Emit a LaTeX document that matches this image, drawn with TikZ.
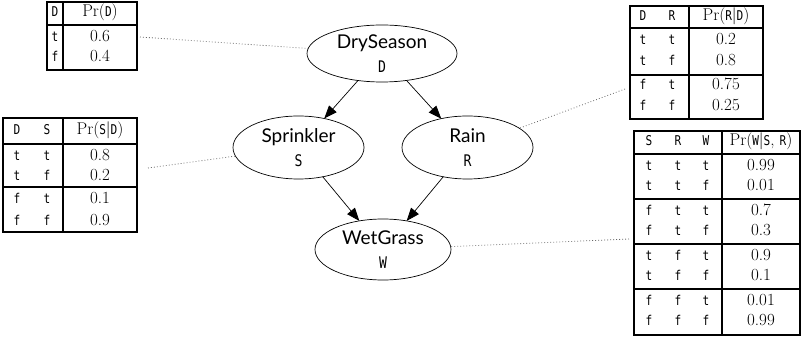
\documentclass[tikz,border=0pt]{standalone}
\usepackage{fontspec}
\usetikzlibrary{shapes.geometric,arrows.meta}
\newfontfamily\labfont{Lato}
\newfontfamily\monof[FakeStretch=0.82]{DejaVu Sans Mono}
\newcommand\ml[1]{{\monof\fontsize{13.5}{15}\selectfont #1}}
\tikzset{
  bn/.style={ellipse, draw, line width=0.7pt, inner sep=0pt, outer sep=0pt, align=center,
    font=\labfont\fontsize{19}{24}\selectfont},
  arr/.style={line width=0.7pt, -{Triangle[length=13pt,width=10pt]}},
  dotline/.style={line width=0.8pt, black!60, dash pattern=on 0.8pt off 2.2pt},
  tbl/.style={line width=1.8pt},
  mt/.style={inner sep=0pt, text height=10pt, text depth=3pt, font=\monof\fontsize{13.5}{15}\selectfont},
  vt/.style={inner sep=0pt, text height=10pt, text depth=3pt, font=\fontsize{17}{20}\selectfont},
}
\begin{document}
\begin{tikzpicture}[x=1pt,y=-1pt]
\useasboundingbox (0,0) rectangle (803,339);

% ---- Bayesian network nodes ----
\node[bn, minimum width=150pt, minimum height=57pt] (D) at (382,53.5) {DrySeason\\{\monof\fontsize{16}{18}\selectfont D}};
\node[bn, minimum width=131pt, minimum height=63pt] (S) at (298.5,147.5) {Sprinkler\\{\monof\fontsize{16}{18}\selectfont S}};
\node[bn, minimum width=131pt, minimum height=63pt] (R) at (467.5,147.5) {Rain\\{\monof\fontsize{16}{18}\selectfont R}};
\node[bn, minimum width=136pt, minimum height=61pt] (W) at (383,249.5) {WetGrass\\{\monof\fontsize{16}{18}\selectfont W}};

\draw[arr] (D) -- (S);
\draw[arr] (D) -- (R);
\draw[arr] (S) -- (W);
\draw[arr] (R) -- (W);

% ---- Table Pr(D) ----
\draw[tbl] (47,2) rectangle (137,70);
\draw[tbl] (47,25) -- (137,25);
\draw[tbl] (63,2) -- (63,70);
\node[mt] (tD-h1) at (55,13.5) {D};
\node[vt] (tD-h2) at (100,13.5) {Pr(\ml{D})};
\node[mt] (tD-11) at (55,38) {t};
\node[vt] (tD-12) at (100,38) {0.6};
\node[mt] (tD-21) at (55,58) {f};
\node[vt] (tD-22) at (100,58) {0.4};
\coordinate (tDc) at (140,37);

% ---- Table Pr(R|D) ----
\draw[tbl] (630,6) rectangle (763,119);
\draw[tbl] (630,28) -- (763,28);
\draw[tbl] (630,75) -- (763,75);
\draw[tbl] (689,6) -- (689,119);
\node[mt] (tR-h1) at (643,17) {D};
\node[mt] (tR-h2) at (672,17) {R};
\node[vt] (tR-h3) at (726,17) {Pr(\ml{R}|\ml{D})};
\foreach \y/\a/\b/\v [count=\i] in {41/t/t/0.2, 62/t/f/0.8, 86/f/t/0.75, 107/f/f/0.25}{
  \node[mt] (tR-\i1) at (643,\y) {\a};
  \node[mt] (tR-\i2) at (672,\y) {\b};
  \node[vt] (tR-\i3) at (726,\y) {\v};
}
\coordinate (tRc) at (625,89);

% ---- Table Pr(S|D) ----
\draw[tbl] (3,118) rectangle (137,232);
\draw[tbl] (3,144) -- (137,144);
\draw[tbl] (3,187) -- (137,187);
\draw[tbl] (63,118) -- (63,232);
\node[mt] (tS-h1) at (17,131) {D};
\node[mt] (tS-h2) at (47,131) {S};
\node[vt] (tS-h3) at (100,131) {Pr(\ml{S}|\ml{D})};
\foreach \y/\a/\b/\v [count=\i] in {157/t/t/0.8, 177/t/f/0.2, 200/f/t/0.1, 222/f/f/0.9}{
  \node[mt] (tS-\i1) at (17,\y) {\a};
  \node[mt] (tS-\i2) at (47,\y) {\b};
  \node[vt] (tS-\i3) at (100,\y) {\v};
}
\coordinate (tSc) at (148,168);

% ---- Table Pr(W|S,R) ----
\draw[tbl] (634,131) rectangle (800,335);
\draw[tbl] (634,154) -- (800,154);
\draw[tbl] (634,199) -- (800,199);
\draw[tbl] (634,244) -- (800,244);
\draw[tbl] (634,289) -- (800,289);
\draw[tbl] (722,131) -- (722,335);
\node[mt] (tW-h1) at (649,142.5) {S};
\node[mt] (tW-h2) at (678,142.5) {R};
\node[mt] (tW-h3) at (706,142.5) {W};
\node[vt] (tW-h4) at (761,142.5) {Pr(\ml{W}|\ml{S}, \ml{R})};
\foreach \y/\a/\b/\c/\v [count=\i] in {167/t/t/t/0.99, 187/t/t/f/0.01, 212/f/t/t/0.7, 232/f/t/f/0.3,
    257/t/f/t/0.9, 277/t/f/f/0.1, 302/f/f/t/0.01, 322/f/f/f/0.99}{
  \node[mt] (tW-\i1) at (649,\y) {\a};
  \node[mt] (tW-\i2) at (678,\y) {\b};
  \node[mt] (tW-\i3) at (706,\y) {\c};
  \node[vt] (tW-\i4) at (761,\y) {\v};
}
\coordinate (tWc) at (629,239);

% ---- dotted links ----
\draw[dotline] (tDc) -- (D);
\draw[dotline] (tRc) -- (R);
\draw[dotline] (tSc) -- (S);
\draw[dotline] (tWc) -- (W);
\end{tikzpicture}
\end{document}
